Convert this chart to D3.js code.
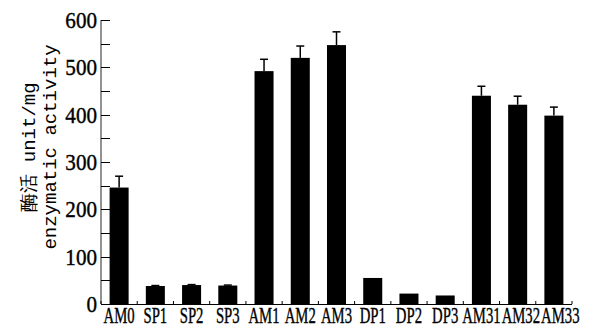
<!DOCTYPE html>
<html>
<head>
<meta charset="utf-8">
<script src="https://cdn.jsdelivr.net/npm/d3@7"></script>
<style>
  body { margin: 0; background: #fff; }
  svg { display: block; }
</style>
</head>
<body>
<div id="chart"></div>
<script>
// data
var categories = ["AM0","SP1","SP2","SP3","AM1","AM2","AM3","DP1","DP2","DP3","AM31","AM32","AM33"];
var values = [246, 38, 40, 39, 492, 520, 547, 55, 22, 18, 440, 421, 398];
var errors = [24, 1, 1, 1, 25, 25, 28, 0, 0, 0, 20, 18, 18];
var yTicks = [0, 100, 200, 300, 400, 500, 600];
var yMinor = [50, 150, 250, 350, 450, 550];

var data = categories.map(function (c, i) {
    return {name: c, value: values[i], err: errors[i]};
});

var width = 599, height = 329,
    margin = {left: 101, top: 20, right: 27, bottom: 25};

var svg = d3.select("#chart").append("svg")
    .attr("width", width)
    .attr("height", height);

var x = d3.scaleBand()
    .domain(categories)
    .range([margin.left, width - margin.right])
    .paddingInner(0.475)
    .paddingOuter(0.2375);

var y = d3.scaleLinear()
    .domain([0, 600])
    .range([height - margin.bottom, margin.top]);

var y0 = y(0);
function cx(d) { return x(d.name) + x.bandwidth() / 2; }

// bars
svg.selectAll(".bar")
    .data(data)
    .enter()
    .append("rect")
    .attr("class", "bar")
    .attr("x", function (d) { return x(d.name); })
    .attr("y", function (d) { return y(d.value); })
    .attr("width", x.bandwidth())
    .attr("height", function (d) { return y0 - y(d.value); })
    .attr("fill", "#000");

// error bars
var eb = svg.selectAll(".err")
    .data(data.filter(function (d) { return d.err > 0; }))
    .enter()
    .append("g")
    .attr("class", "err");

eb.append("line")
    .attr("x1", cx).attr("x2", cx)
    .attr("y1", function (d) { return y(d.value); })
    .attr("y2", function (d) { return y(d.value + d.err); })
    .attr("stroke", "#000")
    .attr("stroke-width", 1.5);

eb.append("line")
    .attr("x1", function (d) { return cx(d) - 4; })
    .attr("x2", function (d) { return cx(d) + 4; })
    .attr("y1", function (d) { return y(d.value + d.err); })
    .attr("y2", function (d) { return y(d.value + d.err); })
    .attr("stroke", "#000")
    .attr("stroke-width", 1.5);

// y axis
svg.append("line")
    .attr("x1", margin.left).attr("x2", margin.left)
    .attr("y1", y(600)).attr("y2", y0)
    .attr("stroke", "#777")
    .attr("stroke-width", 1.6);

svg.selectAll(".ytick")
    .data(yTicks.concat(yMinor))
    .enter()
    .append("line")
    .attr("x1", margin.left).attr("x2", margin.left + 9)
    .attr("y1", function (d) { return Math.round(y(d)) + 0.5; })
    .attr("y2", function (d) { return Math.round(y(d)) + 0.5; })
    .attr("stroke", "#000")
    .attr("stroke-width", 1);

svg.selectAll(".ylab")
    .data(yTicks)
    .enter()
    .append("text")
    .attr("text-anchor", "end")
    .attr("transform", function (d) { return "translate(" + (margin.left - 4) + "," + (y(d) + 8) + ") scale(0.88,1)"; })
    .attr("font-family", "Liberation Serif, serif")
    .attr("font-size", 24)
    .attr("fill", "#000")
    .attr("stroke", "#000")
    .attr("stroke-width", 0.4)
    .text(function (d) { return d; });

// x axis
var xr = x.range();
svg.append("line")
    .attr("x1", xr[0]).attr("x2", xr[1])
    .attr("y1", Math.round(y0) + 0.5).attr("y2", Math.round(y0) + 0.5)
    .attr("stroke", "#000")
    .attr("stroke-width", 1.2);

svg.selectAll(".xtick")
    .data(d3.range(categories.length + 1))
    .enter()
    .append("line")
    .attr("x1", function (i) { return xr[0] + i * x.step(); })
    .attr("x2", function (i) { return xr[0] + i * x.step(); })
    .attr("y1", y0).attr("y2", y0 - 3)
    .attr("stroke", "#000")
    .attr("stroke-width", 1);

// x labels: centred under bars, pushed right when they would overlap
var sx = 0.64;
var labels = svg.selectAll(".xlab")
    .data(categories)
    .enter()
    .append("text")
    .attr("class", "xlab")
    .attr("font-family", "Liberation Serif, serif")
    .attr("font-size", 23)
    .attr("fill", "#000")
    .attr("stroke", "#000")
    .attr("stroke-width", 0.4)
    .text(function (d) { return d; });

var prevEnd = -1e9;
labels.each(function (d) {
    var w = this.getComputedTextLength() * sx;
    var c = x(d) + x.bandwidth() / 2;
    var start = Math.max(c - w / 2, prevEnd + 1);
    prevEnd = start + w;
    d3.select(this).attr("transform", "translate(" + start + "," + (y0 + 19) + ") scale(" + sx + ",1)");
});

// y axis title, two lines
var title = svg.append("g")
    .attr("transform", "translate(0,147) rotate(-90)");

title.append("text")
    .attr("x", 0).attr("y", 35)
    .attr("text-anchor", "middle")
    .attr("font-family", "Liberation Mono, monospace")
    .attr("font-size", 19)
    .attr("fill", "#000")
    .text("酶活 unit/mg");

title.append("text")
    .attr("x", 0).attr("y", 56)
    .attr("text-anchor", "middle")
    .attr("font-family", "Liberation Mono, monospace")
    .attr("font-size", 19)
    .attr("fill", "#000")
    .text("enzymatic activity");
</script>
</body>
</html>
